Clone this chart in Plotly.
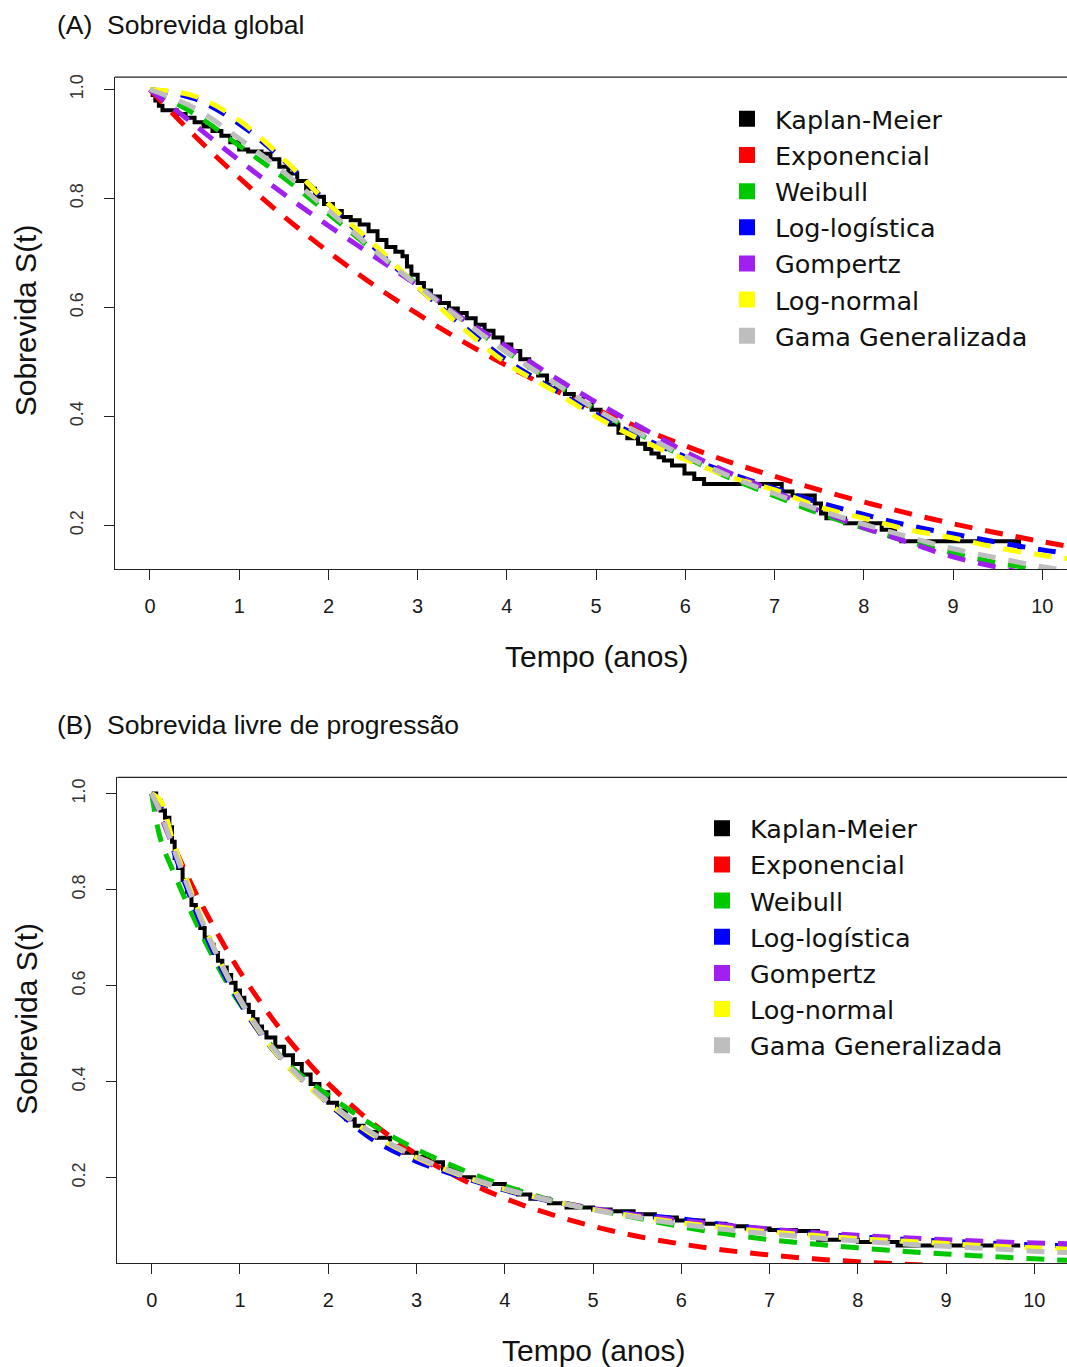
import plotly.graph_objects as go

# ---------------- DATA ----------------
model_names = ["Kaplan-Meier", "Exponencial", "Weibull", "Log-logística",
               "Gompertz", "Log-normal", "Gama Generalizada"]
model_colors = ["#000000", "#FF0000", "#00C800", "#0000FF",
                "#A020F0", "#FFFF00", "#BEBEBE"]
x_ticks = [0, 1, 2, 3, 4, 5, 6, 7, 8, 9, 10]
y_ticks = [0.2, 0.4, 0.6, 0.8, 1.0]

# Panel A: Sobrevida global
km_A_t = [0.00, 0.03, 0.06, 0.10, 0.14, 0.30, 0.40, 0.50, 0.60, 0.70, 0.80, 0.90,
          1.00, 1.10, 1.25, 1.35, 1.45, 1.55, 1.65, 1.75, 1.85, 1.95, 2.05, 2.15,
          2.25, 2.35, 2.45, 2.55, 2.65, 2.75, 2.83, 2.88, 2.93, 3.00, 3.07, 3.15,
          3.25, 3.35, 3.45, 3.55, 3.65, 3.75, 3.85, 3.95, 4.05, 4.15, 4.25, 4.35,
          4.45, 4.55, 4.65, 4.75, 4.85, 4.95, 5.05, 5.15, 5.25, 5.35, 5.47, 5.55,
          5.62, 5.70, 5.76, 5.85, 5.99, 6.10, 6.21, 7.08, 7.20, 7.45, 7.52, 7.58,
          7.79, 8.20, 8.35, 8.42, 9.74, 9.78]
km_A_s = [1.000, 0.990, 0.980, 0.970, 0.962, 0.955, 0.948, 0.940, 0.932, 0.924, 0.915, 0.903,
          0.890, 0.886, 0.882, 0.872, 0.858, 0.846, 0.832, 0.818, 0.803, 0.790, 0.777, 0.766,
          0.760, 0.752, 0.740, 0.724, 0.711, 0.702, 0.694, 0.675, 0.660, 0.645, 0.631, 0.620,
          0.608, 0.598, 0.590, 0.580, 0.568, 0.557, 0.545, 0.532, 0.520, 0.505, 0.490, 0.475,
          0.462, 0.450, 0.441, 0.432, 0.422, 0.412, 0.400, 0.385, 0.370, 0.360, 0.350, 0.340,
          0.332, 0.325, 0.319, 0.310, 0.295, 0.285, 0.276, 0.262, 0.255, 0.240, 0.222, 0.213,
          0.204, 0.192, 0.180, 0.171, 0.160, 0.160]

t_A = [0, 0.5, 1, 1.5, 2, 2.5, 3, 3.5, 4, 4.5, 5, 5.5, 6, 6.5, 7, 7.5, 8, 8.5, 9, 9.5, 10, 10.5]
exp_A = [1.000, 0.915, 0.838, 0.767, 0.702, 0.642, 0.588, 0.538, 0.493, 0.451, 0.413,
         0.378, 0.346, 0.316, 0.290, 0.265, 0.243, 0.222, 0.203, 0.186, 0.170, 0.156]
weib_A = [1.000, 0.955, 0.897, 0.838, 0.772, 0.705, 0.642, 0.578, 0.518, 0.465, 0.412,
          0.366, 0.325, 0.287, 0.254, 0.222, 0.195, 0.170, 0.149, 0.131, 0.118, 0.104]
llog_A = [1.000, 0.983, 0.937, 0.870, 0.790, 0.712, 0.637, 0.567, 0.503, 0.452, 0.404,
          0.362, 0.326, 0.295, 0.268, 0.242, 0.220, 0.200, 0.184, 0.169, 0.155, 0.144]
gomp_A = [1.000, 0.935, 0.870, 0.808, 0.750, 0.695, 0.640, 0.580, 0.528, 0.475, 0.426,
          0.380, 0.335, 0.296, 0.262, 0.227, 0.196, 0.169, 0.142, 0.123, 0.105, 0.090]
lnorm_A = [1.000, 0.988, 0.943, 0.872, 0.790, 0.717, 0.638, 0.563, 0.497, 0.449, 0.399,
           0.357, 0.321, 0.289, 0.265, 0.234, 0.213, 0.192, 0.177, 0.159, 0.145, 0.135]
ggam_A = [1.000, 0.966, 0.910, 0.848, 0.778, 0.707, 0.640, 0.577, 0.518, 0.465, 0.413,
          0.368, 0.327, 0.290, 0.258, 0.228, 0.202, 0.179, 0.157, 0.140, 0.124, 0.112]

# Panel B: Sobrevida livre de progressão
km_B_t = [0.00, 0.05, 0.10, 0.15, 0.20, 0.23, 0.26, 0.30, 0.35, 0.40, 0.45, 0.50,
          0.55, 0.60, 0.65, 0.70, 0.75, 0.80, 0.85, 0.90, 0.95, 1.00, 1.05, 1.10,
          1.15, 1.20, 1.25, 1.30, 1.40, 1.50, 1.60, 1.70, 1.80, 1.90, 2.00, 2.10,
          2.20, 2.30, 2.40, 2.55, 2.70, 2.85, 3.00, 3.15, 3.30, 3.49, 3.65, 3.83,
          4.00, 4.15, 4.29, 4.50, 4.70, 5.00, 5.20, 5.46, 5.70, 5.95, 6.25, 6.50,
          6.74, 7.00, 7.30, 7.55, 8.00, 8.45, 9.84]
km_B_s = [1.000, 0.985, 0.965, 0.950, 0.930, 0.900, 0.866, 0.845, 0.820, 0.795, 0.768, 0.745,
          0.720, 0.700, 0.685, 0.668, 0.652, 0.638, 0.622, 0.606, 0.590, 0.575, 0.560, 0.545,
          0.530, 0.515, 0.503, 0.492, 0.473, 0.455, 0.437, 0.415, 0.395, 0.378, 0.356, 0.340,
          0.322, 0.308, 0.295, 0.283, 0.266, 0.252, 0.243, 0.232, 0.218, 0.201, 0.193, 0.187,
          0.175, 0.165, 0.156, 0.147, 0.138, 0.134, 0.130, 0.124, 0.117, 0.111, 0.104, 0.099,
          0.094, 0.091, 0.089, 0.071, 0.066, 0.059, 0.059]

t_B = [0, 0.1, 0.25, 0.5, 0.75, 1.0, 1.25, 1.5, 1.75, 2.0, 2.5, 3.0, 3.5, 4, 4.5, 5,
       5.5, 6, 6.5, 7, 7.5, 8, 8.5, 9, 9.5, 10, 10.5]
exp_B = [1.000, 0.955, 0.891, 0.793, 0.707, 0.629, 0.561, 0.499, 0.445, 0.396, 0.314,
         0.249, 0.198, 0.157, 0.125, 0.099, 0.078, 0.062, 0.049, 0.039, 0.031, 0.025,
         0.020, 0.016, 0.012, 0.010, 0.008]
weib_B = [1.000, 0.905, 0.835, 0.732, 0.640, 0.562, 0.500, 0.445, 0.405, 0.372, 0.310,
          0.259, 0.218, 0.183, 0.155, 0.135, 0.116, 0.098, 0.083, 0.071, 0.062, 0.054,
          0.047, 0.041, 0.036, 0.031, 0.027]
llog_B = [1.000, 0.975, 0.880, 0.755, 0.650, 0.565, 0.495, 0.440, 0.395, 0.355, 0.280,
          0.234, 0.202, 0.174, 0.152, 0.135, 0.123, 0.114, 0.102, 0.092, 0.084, 0.077,
          0.072, 0.068, 0.064, 0.060, 0.058]
gomp_B = [1.000, 0.955, 0.885, 0.765, 0.660, 0.572, 0.500, 0.443, 0.397, 0.358, 0.291,
          0.241, 0.205, 0.177, 0.154, 0.136, 0.122, 0.111, 0.101, 0.093, 0.086, 0.080,
          0.075, 0.071, 0.067, 0.064, 0.062]
lnorm_B = [1.000, 0.985, 0.895, 0.770, 0.660, 0.570, 0.497, 0.440, 0.394, 0.356, 0.290,
           0.242, 0.205, 0.176, 0.153, 0.134, 0.119, 0.106, 0.096, 0.087, 0.080, 0.073,
           0.068, 0.063, 0.058, 0.054, 0.051]
ggam_B = [1.000, 0.960, 0.885, 0.765, 0.660, 0.572, 0.500, 0.443, 0.397, 0.358, 0.293,
          0.244, 0.207, 0.177, 0.153, 0.133, 0.117, 0.103, 0.092, 0.083, 0.075, 0.068,
          0.062, 0.057, 0.052, 0.047, 0.043]

panel_titles = ["(A)\u00a0\u00a0Sobrevida global", "(B)\u00a0\u00a0Sobrevida livre de progressão"]
x_title = "Tempo (anos)"
y_title = "Sobrevida S(t)"

# ---------------- FIGURE ----------------
W, H = 1067, 1367
FONT = "Liberation Sans, Arial, Helvetica, sans-serif"
LEG_FONT = "DejaVu Sans, Liberation Sans, Arial, sans-serif"
DASH = "18px,13px"
LW = 5

fig = go.Figure()

panels = [
    dict(xa="x", ya="y", leg="legend", km_t=km_A_t, km_s=km_A_s, t=t_A,
         models=[exp_A, weib_A, llog_A, gomp_A, lnorm_A, ggam_A]),
    dict(xa="x2", ya="y2", leg="legend2", km_t=km_B_t, km_s=km_B_s, t=t_B,
         models=[exp_B, weib_B, llog_B, gomp_B, lnorm_B, ggam_B]),
]

for p in panels:
    fig.add_trace(go.Scatter(x=p["km_t"], y=p["km_s"], mode="lines",
                             line=dict(color=model_colors[0], width=4, shape="hv"),
                             xaxis=p["xa"], yaxis=p["ya"], showlegend=False,
                             hoverinfo="skip"))
    for i, s in enumerate(p["models"]):
        fig.add_trace(go.Scatter(x=p["t"], y=s, mode="lines",
                                 line=dict(color=model_colors[i + 1], width=LW, dash=DASH,
                                           shape="spline", smoothing=1.0),
                                 xaxis=p["xa"], yaxis=p["ya"], showlegend=False,
                                 hoverinfo="skip"))
    # legend entries (square keys)
    for name, col in zip(model_names, model_colors):
        fig.add_trace(go.Scatter(x=[None], y=[None], mode="markers", name=name,
                                 marker=dict(symbol="square", size=16, color=col,
                                             line=dict(width=0)),
                                 xaxis=p["xa"], yaxis=p["ya"], legend=p["leg"],
                                 showlegend=True))

def px_x(v):
    return v / W

def px_y(v):
    return 1 - v / H

axis_common = dict(showgrid=False, zeroline=False, showline=True, linecolor="#222222",
                   linewidth=1.3, ticks="outside", ticklen=10, tickwidth=1.3,
                   tickcolor="#222222")

fig.update_layout(
    width=W, height=H, margin=dict(l=0, r=0, t=0, b=0),
    paper_bgcolor="white", plot_bgcolor="white",
    font=dict(family=FONT, color="#111111"),
    xaxis=dict(domain=[px_x(115), 1.0], range=[-0.392, 10.277], tickvals=x_ticks,
               tickfont=dict(size=20, color="#1a1a1a"), anchor="y",
               ticklabelstandoff=9, **axis_common),
    yaxis=dict(domain=[px_y(567.3), px_y(74.3)], range=[0.1198, 1.0227], tickvals=y_ticks,
               tickformat=".1f", tickangle=-90, tickfont=dict(size=18, color="#333333"),
               anchor="x", ticklabelstandoff=14, **axis_common),
    xaxis2=dict(domain=[px_x(117.3), 1.0], range=[-0.39, 10.37], tickvals=x_ticks,
                tickfont=dict(size=20, color="#1a1a1a"), anchor="y2",
                ticklabelstandoff=9, **axis_common),
    yaxis2=dict(domain=[px_y(1262.7), px_y(776)], range=[0.0225, 1.034], tickvals=y_ticks,
                tickformat=".1f", tickangle=-90, tickfont=dict(size=18, color="#333333"),
                anchor="x2", ticklabelstandoff=14, **axis_common),
    legend=dict(x=px_x(719), y=px_y(93), xanchor="left", yanchor="top",
                bgcolor="rgba(0,0,0,0)", borderwidth=0, itemwidth=46,
                font=dict(size=25.5, family=LEG_FONT, color="#111111"), tracegroupgap=0),
    legend2=dict(x=px_x(694), y=px_y(804), xanchor="left", yanchor="top",
                 bgcolor="rgba(0,0,0,0)", borderwidth=0, itemwidth=46,
                 font=dict(size=25.5, family=LEG_FONT, color="#111111"), tracegroupgap=0),
)

# top border of each plotting box
for xr, yr in [("x domain", "y domain"), ("x2 domain", "y2 domain")]:
    fig.add_shape(type="line", xref=xr, yref=yr, x0=0, x1=1, y0=1, y1=1,
                  line=dict(color="#222222", width=1.3))

annots = [
    dict(text=panel_titles[0], x=px_x(55), y=px_y(22), xanchor="left", yanchor="middle",
         font=dict(size=26.5)),
    dict(text=panel_titles[1], x=px_x(55), y=px_y(724), xanchor="left", yanchor="middle",
         font=dict(size=26.5)),
    dict(text=x_title, x=px_x(596), y=px_y(655), xanchor="center", yanchor="middle",
         font=dict(size=30)),
    dict(text=x_title, x=px_x(593), y=px_y(1350), xanchor="center", yanchor="middle",
         font=dict(size=30)),
    dict(text=y_title, x=px_x(25), y=px_y(318), xanchor="center", yanchor="middle",
         textangle=-90, font=dict(size=30)),
    dict(text=y_title, x=px_x(27), y=px_y(1018), xanchor="center", yanchor="middle",
         textangle=-90, font=dict(size=30)),
]
for a in annots:
    fig.add_annotation(xref="paper", yref="paper", showarrow=False, **a)

fig.write_html("out.html",
               config={"displayModeBar": False},
               post_script="document.body.style.margin='0px';"
                           "document.body.style.overflow='hidden';")
